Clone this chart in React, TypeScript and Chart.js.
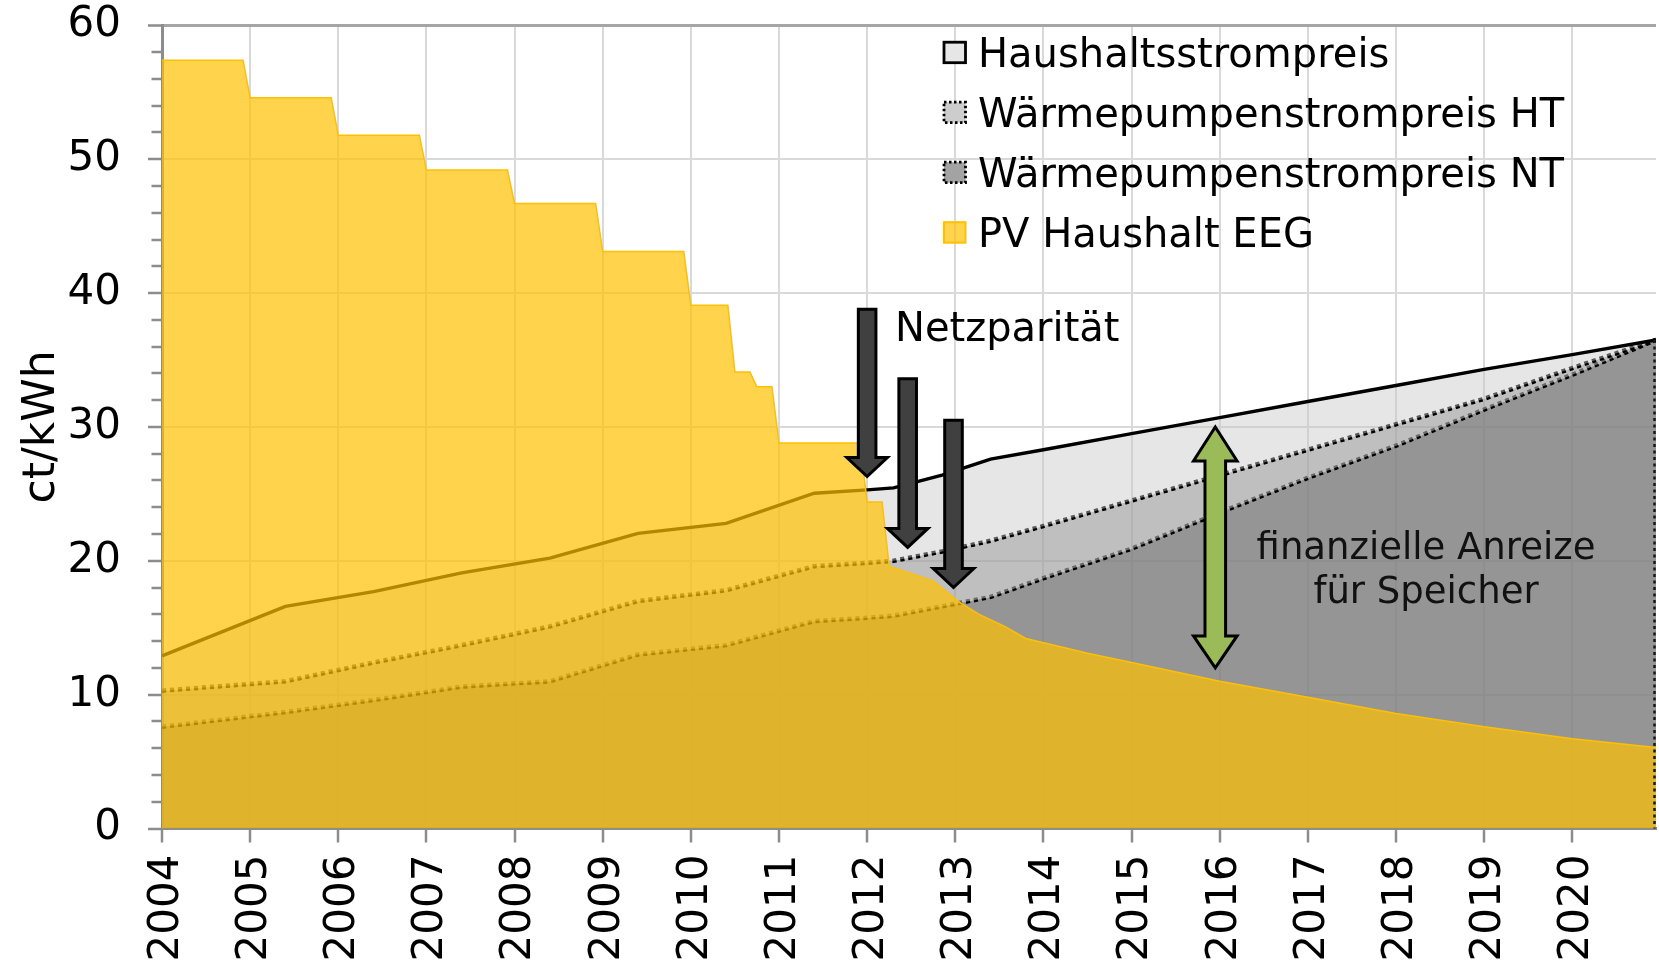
import React, { useEffect, useRef } from 'react';
import { Chart, registerables } from 'chart.js';

Chart.register(...registerables);

// ---------- data ----------
const yearTicks = [2004, 2005, 2006, 2007, 2008, 2009, 2010, 2011, 2012, 2013, 2014, 2015, 2016, 2017, 2018, 2019, 2020];
const yTicks = [0, 10, 20, 30, 40, 50, 60];

const seriesNames = [
  'Haushaltsstrompreis',
  'Wärmepumpenstrompreis HT',
  'Wärmepumpenstrompreis NT',
  'PV Haushalt EEG',
];

const priceYears = [2004, 2005.4, 2006.4, 2007.4, 2008.4, 2009.4, 2010.4, 2011.4, 2012.0, 2012.3, 2012.85, 2013.4, 2014, 2015, 2016, 2017, 2018, 2019, 2020, 2020.95];
const haushaltPrice = [12.9, 16.6, 17.7, 19.1, 20.2, 22.05, 22.8, 25.05, 25.3, 25.45, 26.4, 27.6, 28.3, 29.5, 30.7, 31.9, 33.1, 34.3, 35.4, 36.5];
const wpPriceHT = [10.3, 11.0, 12.4, 13.7, 15.1, 17.0, 17.8, 19.6, 19.85, 20.0, 20.7, 21.5, 22.6, 24.5, 26.4, 28.3, 30.2, 32.1, 34.4, 36.5];
const wpPriceNT = [7.6, 8.7, 9.6, 10.6, 11.0, 13.0, 13.7, 15.5, 15.75, 15.9, 16.6, 17.3, 18.7, 20.9, 23.6, 26.2, 28.6, 31.3, 33.9, 36.5];

const pvYears = [2004, 2004.92, 2005, 2005.92, 2006, 2006.92, 2007, 2007.92, 2008, 2008.92, 2009, 2009.92, 2010, 2010.42, 2010.5, 2010.67, 2010.75, 2010.92, 2011, 2011.92, 2012, 2012.17, 2012.25, 2012.75, 2013.05, 2013.27, 2013.56, 2013.8, 2014.5, 2015, 2016, 2017, 2018, 2019, 2020, 2020.95];
const pvTariff = [57.4, 57.4, 54.6, 54.6, 51.8, 51.8, 49.2, 49.2, 46.7, 46.7, 43.1, 43.1, 39.1, 39.1, 34.1, 34.1, 33.0, 33.0, 28.8, 28.8, 24.4, 24.4, 19.6, 18.5, 16.9, 16.0, 15.1, 14.2, 13.1, 12.4, 11.0, 9.8, 8.6, 7.6, 6.7, 6.05];

// annotation anchors (data units)
const parityArrowYears = [2012.0, 2012.46, 2012.98];
const parityArrowTips = [26.3, 21.0, 18.0];
const parityArrowTops = [38.8, 33.6, 30.5];
const parityLabel = 'Netzparität';
const incentiveArrowYear = 2015.95;
const incentiveArrowTop = 30.0;
const incentiveArrowBottom = 12.0;
const incentiveLines = ['finanzielle Anreize', 'für Speicher'];
const yTitle = 'ct/kWh';

const X_MIN = 2004;
const X_MAX = 2020.95;
const FONT = '"DejaVu Sans", Verdana, sans-serif';

function blockArrow(ctx: CanvasRenderingContext2D, cx: number, yTop: number, yTip: number, shaftHalf: number, headHalf: number, headH: number) {
  ctx.beginPath();
  ctx.moveTo(cx - shaftHalf, yTop);
  ctx.lineTo(cx + shaftHalf, yTop);
  ctx.lineTo(cx + shaftHalf, yTip - headH);
  ctx.lineTo(cx + headHalf, yTip - headH);
  ctx.lineTo(cx, yTip);
  ctx.lineTo(cx - headHalf, yTip - headH);
  ctx.lineTo(cx - shaftHalf, yTip - headH);
  ctx.closePath();
}

function doubleArrow(ctx: CanvasRenderingContext2D, cx: number, yTop: number, yBot: number, shaftHalf: number, headHalf: number, headTop: number, headBot: number) {
  ctx.beginPath();
  ctx.moveTo(cx, yTop);
  ctx.lineTo(cx + headHalf, yTop + headTop);
  ctx.lineTo(cx + shaftHalf, yTop + headTop);
  ctx.lineTo(cx + shaftHalf, yBot - headBot);
  ctx.lineTo(cx + headHalf, yBot - headBot);
  ctx.lineTo(cx, yBot);
  ctx.lineTo(cx - headHalf, yBot - headBot);
  ctx.lineTo(cx - shaftHalf, yBot - headBot);
  ctx.lineTo(cx - shaftHalf, yTop + headTop);
  ctx.lineTo(cx - headHalf, yTop + headTop);
  ctx.closePath();
}

const decorPlugin = {
  id: 'decor',
  beforeDatasetDraw(chart: any, args: any) {
    if (args.index !== 3) return;
    const { ctx, scales } = chart;
    const x = scales.x.getPixelForValue(X_MAX) - 1.5;
    ctx.save();
    ctx.strokeStyle = '#1a1a1a';
    ctx.lineWidth = 2.5;
    ctx.setLineDash([3, 3.5]);
    ctx.beginPath();
    ctx.moveTo(x, scales.y.getPixelForValue(wpPriceNT[wpPriceNT.length - 1]));
    ctx.lineTo(x, scales.y.getPixelForValue(0));
    ctx.stroke();
    ctx.restore();
  },
  afterDatasetsDraw(chart: any) {
    const { ctx, scales, chartArea } = chart;
    const xs = scales.x;
    const ys = scales.y;
    ctx.save();

    // minor ticks on y axis
    ctx.strokeStyle = '#8c8c8c';
    ctx.lineWidth = 2.5;
    for (let v = 2; v < 60; v += 2) {
      if (v % 10 === 0) continue;
      const py = Math.round(ys.getPixelForValue(v));
      ctx.beginPath();
      ctx.moveTo(chartArea.left - 10.5, py);
      ctx.lineTo(chartArea.left, py);
      ctx.stroke();
    }

    // dark parity arrows
    ctx.lineJoin = 'miter';
    for (let i = 0; i < parityArrowYears.length; i++) {
      const cx = xs.getPixelForValue(parityArrowYears[i]);
      blockArrow(ctx, cx, ys.getPixelForValue(parityArrowTops[i]), ys.getPixelForValue(parityArrowTips[i]), 8.8, 20.3, 19);
      ctx.fillStyle = '#404040';
      ctx.fill();
      ctx.strokeStyle = '#000';
      ctx.lineWidth = 3;
      ctx.stroke();
    }

    // green double arrow
    const gx = xs.getPixelForValue(incentiveArrowYear);
    doubleArrow(ctx, gx, ys.getPixelForValue(incentiveArrowTop), ys.getPixelForValue(incentiveArrowBottom), 10.3, 21.8, 34, 32);
    ctx.fillStyle = '#9bbb59';
    ctx.fill();
    ctx.strokeStyle = '#000';
    ctx.lineWidth = 3;
    ctx.stroke();

    // texts
    ctx.fillStyle = '#000';
    ctx.font = `40px ${FONT}`;
    ctx.textAlign = 'left';
    ctx.textBaseline = 'alphabetic';
    ctx.fillText(parityLabel, 895, 341);

    ctx.font = `37px ${FONT}`;
    ctx.textAlign = 'center';
    ctx.fillStyle = '#111';
    ctx.fillText(incentiveLines[0], 1426, 559);
    ctx.fillText(incentiveLines[1], 1426, 603);

    // legend
    const swX = 944;
    const rowY = [52.5, 112.5, 172.5, 232.5];
    const fills = ['#e6e6e6', '#cdcdcd', '#a3a3a3', 'rgba(255,192,0,0.7)'];
    const strokes = ['#000', '#000', '#000', '#ffc000'];
    const dashes = [[], [2.5, 2.5], [2.5, 2.5], []];
    for (let i = 0; i < 4; i++) {
      ctx.save();
      ctx.fillStyle = fills[i];
      ctx.fillRect(swX, rowY[i] - 10.3, 21.5, 20.5);
      ctx.strokeStyle = strokes[i];
      ctx.lineWidth = i === 3 ? 2 : 2.8;
      ctx.setLineDash(dashes[i]);
      ctx.strokeRect(swX, rowY[i] - 10.3, 21.5, 20.5);
      ctx.restore();
      ctx.fillStyle = '#000';
      ctx.font = `40px ${FONT}`;
      ctx.textAlign = 'left';
      ctx.textBaseline = 'alphabetic';
      ctx.fillText(seriesNames[i], 978, rowY[i] + 14.5);
    }

    // y title
    ctx.save();
    ctx.translate(54, (chartArea.top + chartArea.bottom) / 2);
    ctx.rotate(-Math.PI / 2);
    ctx.font = `44px ${FONT}`;
    ctx.textAlign = 'center';
    ctx.textBaseline = 'alphabetic';
    ctx.fillStyle = '#000';
    ctx.fillText(yTitle, 0, 0);
    ctx.restore();

    ctx.restore();
  },
};

export default function App() {
  const ref = useRef<HTMLCanvasElement>(null);
  useEffect(() => {
    const canvas = ref.current;
    if (!canvas) return;
    Chart.defaults.font.family = FONT;
    const pts = (xv: number[], yv: number[]) => xv.map((x, i) => ({ x, y: yv[i] }));
    const chart = new Chart(canvas, {
      type: 'line',
      data: {
        datasets: [
          {
            label: seriesNames[0], data: pts(priceYears, haushaltPrice), borderColor: '#000', borderWidth: 3.4,
            backgroundColor: 'rgba(200,200,200,0.45)', fill: '+1', order: 1, pointRadius: 0, tension: 0,
          },
          {
            label: seriesNames[1], data: pts(priceYears, wpPriceHT), borderColor: '#000', borderWidth: 4.5,
            borderDash: [4.2, 3.8], backgroundColor: 'rgba(160,160,160,0.67)', fill: '+1', order: 2, pointRadius: 0, tension: 0,
          },
          {
            label: seriesNames[2], data: pts(priceYears, wpPriceNT), borderColor: '#000', borderWidth: 4.5,
            borderDash: [4.2, 3.8], backgroundColor: 'rgba(128,128,128,0.83)', fill: 'origin', order: 3, pointRadius: 0, tension: 0,
          },
          {
            label: seriesNames[3], data: pts(pvYears, pvTariff), borderColor: '#ffc000', borderWidth: 1.5,
            backgroundColor: 'rgba(255,192,0,0.7)', fill: 'origin', order: 0, pointRadius: 0, tension: 0,
          },
        ],
      } as any,
      options: {
        responsive: false,
        animation: false,
        layout: { padding: { left: 0, right: 3, top: 25.4, bottom: 0 } },
        plugins: { legend: { display: false }, tooltip: { enabled: false } },
        scales: {
          x: {
            type: 'linear', min: X_MIN, max: X_MAX,
            afterBuildTicks: (s: any) => { s.ticks = yearTicks.map((v) => ({ value: v })); },
            afterFit: (s: any) => { s.height = 137.5; s.paddingLeft = 0; s.paddingRight = 0; },
            ticks: {
              autoSkip: false, minRotation: 90, maxRotation: 90, padding: 12, labelOffset: 5, color: '#000',
              font: { size: 42, family: FONT }, callback: (v: any) => String(v),
            },
            grid: { color: '#d9d9d9', lineWidth: 2, tickLength: 14, tickColor: '#8c8c8c', tickWidth: 2.5 },
            border: { color: '#8c8c8c', width: 3 },
          },
          y: {
            min: 0, max: 60,
            afterBuildTicks: (s: any) => { s.ticks = yTicks.map((v) => ({ value: v })); },
            afterFit: (s: any) => { s.width = 162; s.paddingTop = 0; s.paddingBottom = 0; },
            ticks: { padding: 27, color: '#000', font: { size: 42, family: FONT }, callback: (v: any) => String(v) },
            grid: {
              color: (c: any) => (c.tick && c.tick.value === 60 ? '#a6a6a6' : '#d9d9d9'),
              lineWidth: (c: any) => (c.tick && c.tick.value === 60 ? 3 : 2),
              tickLength: 14, tickColor: '#8c8c8c', tickWidth: 2.5,
            },
            border: { color: '#8c8c8c', width: 3 },
          },
        },
      } as any,
      plugins: [decorPlugin],
    });
    return () => chart.destroy();
  }, []);
  return (
    <div style={{ position: 'fixed', left: 0, top: 0, width: 1659, height: 966, background: '#fff' }}>
      <canvas ref={ref} width={1659} height={966} style={{ display: 'block' }} />
    </div>
  );
}
